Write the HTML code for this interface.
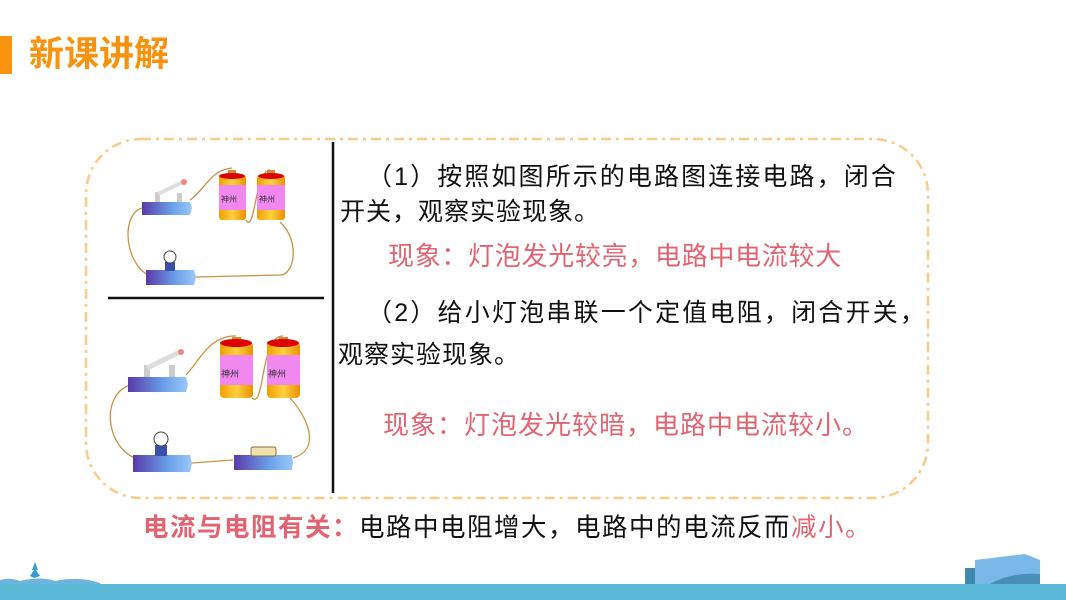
<!DOCTYPE html>
<html><head><meta charset="utf-8"><style>
html,body{margin:0;padding:0;}
body{width:1066px;height:600px;position:relative;overflow:hidden;background:#fff;font-family:"Liberation Sans","Noto Sans CJK SC",sans-serif;}
.t{position:absolute;white-space:nowrap;font-size:25px;line-height:30px;color:#111;}
.r{color:#e06472;}
</style></head><body>
<div style="position:absolute;left:0;top:36px;width:12px;height:38px;background:#f7930f"></div>
<div class="t" style="left:29px;top:35px;font-size:35px;line-height:40px;font-weight:bold;color:#f7930f">新课讲解</div>

<svg width="1066" height="600" style="position:absolute;left:0;top:0">
<rect x="86" y="139" width="842" height="359" rx="55" fill="none" stroke="#f8cc8e" stroke-width="2.5" stroke-dasharray="10,5,3,5"/>
<line x1="333" y1="142" x2="333" y2="493" stroke="#111" stroke-width="2.5"/>
<line x1="108" y1="298" x2="324" y2="298" stroke="#111" stroke-width="2.5"/>
<defs>
<linearGradient id="bs" x1="0" x2="1"><stop offset="0" stop-color="#5a3aa8"/><stop offset="0.6" stop-color="#6aa0e8"/><stop offset="1" stop-color="#9cc8f8"/></linearGradient>
<linearGradient id="bt" x1="0" x2="1"><stop offset="0" stop-color="#f0a000"/><stop offset="0.5" stop-color="#ffd040"/><stop offset="1" stop-color="#e89000"/></linearGradient>
</defs>
<g fill="none" stroke="#c8924a" stroke-width="1.3">
<path d="M142 208 C120 215,125 265,150 276"/>
<path d="M190 200 C205 190,210 170,232 168"/>
<path d="M246 220 C255 235,255 170,270 170"/>
<path d="M280 222 C300 240,295 275,280 275 L196 277"/>
<path d="M130 385 C100 395,105 450,140 460"/>
<path d="M186 375 C200 360,210 335,236 336"/>
<path d="M252 398 C265 410,260 335,283 336"/>
<path d="M290 398 C310 420,320 450,293 458"/>
<path d="M192 463 L233 460"/>
</g>
<path d="M142 202 L190 202 L192 208 L190 215 L142 215 Z" fill="url(#bs)"/>
<rect x="155" y="192" width="5" height="10" fill="#ccc"/><rect x="177" y="193" width="5" height="9" fill="#ccc"/>
<line x1="158" y1="194" x2="183" y2="182" stroke="#ddd" stroke-width="4"/><circle cx="184" cy="182" r="3" fill="#e88"/>
<rect x="219" y="175" width="27" height="45" rx="3" fill="url(#bt)"/><rect x="219" y="185" width="27" height="25" fill="#f088f0"/><rect x="228" y="170" width="8" height="6" fill="#d08a30"/><ellipse cx="232" cy="176" rx="13" ry="3" fill="#d00"/>
<rect x="257" y="175" width="28" height="45" rx="3" fill="url(#bt)"/><rect x="257" y="185" width="28" height="25" fill="#f088f0"/><rect x="267" y="170" width="8" height="6" fill="#d08a30"/><ellipse cx="271" cy="176" rx="13" ry="3" fill="#d00"/>
<text x="221" y="202" font-size="8" fill="#333">神州</text><text x="259" y="202" font-size="8" fill="#333">神州</text>
<path d="M146 270 L194 270 L196 277 L194 285 L146 285 Z" fill="url(#bs)"/>
<rect x="165" y="262" width="10" height="9" fill="#3a50a8"/><circle cx="170" cy="257" r="6" fill="#fff" stroke="#444"/>
<path d="M128 377 L186 377 L188 384 L186 392 L128 392 Z" fill="url(#bs)"/>
<rect x="144" y="365" width="6" height="12" fill="#ccc"/><rect x="169" y="365" width="6" height="12" fill="#ccc"/>
<line x1="147" y1="368" x2="180" y2="352" stroke="#ddd" stroke-width="5"/><circle cx="181" cy="352" r="3" fill="#e88"/>
<rect x="220" y="342" width="33" height="56" rx="4" fill="url(#bt)"/><rect x="220" y="355" width="33" height="30" fill="#f088f0"/><rect x="232" y="337" width="9" height="6" fill="#d08a30"/><ellipse cx="236" cy="343" rx="16" ry="4" fill="#d00"/>
<rect x="267" y="342" width="33" height="56" rx="4" fill="url(#bt)"/><rect x="267" y="355" width="33" height="30" fill="#f088f0"/><rect x="279" y="337" width="9" height="6" fill="#d08a30"/><ellipse cx="283" cy="343" rx="16" ry="4" fill="#d00"/>
<text x="221" y="377" font-size="9" fill="#333">神州</text><text x="268" y="377" font-size="9" fill="#333">神州</text>
<path d="M133 455 L190 455 L192 463 L190 472 L133 472 Z" fill="url(#bs)"/>
<rect x="155" y="445" width="12" height="11" fill="#3a50a8"/><circle cx="161" cy="439" r="7" fill="#fff" stroke="#444"/>
<path d="M234 455 L292 455 L293 462 L292 470 L234 470 Z" fill="url(#bs)"/>
<rect x="251" y="447" width="25" height="9" rx="2" fill="#f0e0b0" stroke="#887030"/>
<rect x="0" y="584" width="1066" height="16" fill="#5ab8d6"/>
<path d="M0 584 L0 580 Q10 577,20 581 Q40 576,55 581 Q80 576,100 583 L100 584Z" fill="#6fb4dc"/>
<path d="M34 578 L30 576 L34 570 L32 570 L35 562 L38 570 L36 570 L40 576 Z" fill="#3a9ad0"/>
<rect x="965" y="568" width="26" height="16" fill="#3f88b0"/>
<path d="M975 560 L1025 554 L1040 560 L1040 584 L975 584Z" fill="#7ab8e8"/>
<path d="M990 584 Q1010 572,1040 574 L1040 584Z" fill="#4890b8"/>
</svg>

<div class="t" style="left:367px;top:162px;letter-spacing:2.1px">（1）按照如图所示的电路图连接电路，闭合</div>
<div class="t" style="left:340px;top:197px;letter-spacing:1px">开关，观察实验现象。</div>
<div class="t r" style="left:388px;top:241px;font-size:26px;letter-spacing:0.7px">现象：灯泡发光较亮，电路中电流较大</div>
<div class="t" style="left:367px;top:298px;letter-spacing:2.2px">（2）给小灯泡串联一个定值电阻，闭合开关，</div>
<div class="t" style="left:338px;top:340px;letter-spacing:1px">观察实验现象。</div>
<div class="t r" style="left:383px;top:410px;font-size:26px;letter-spacing:1px">现象：灯泡发光较暗，电路中电流较小。</div>
<div class="t" style="left:143px;top:513px;font-size:25.5px;letter-spacing:1.5px"><b class="r">电流与电阻有关：</b>电路中电阻增大，电路中的电流反而<span class="r">减小。</span></div>
</body></html>
